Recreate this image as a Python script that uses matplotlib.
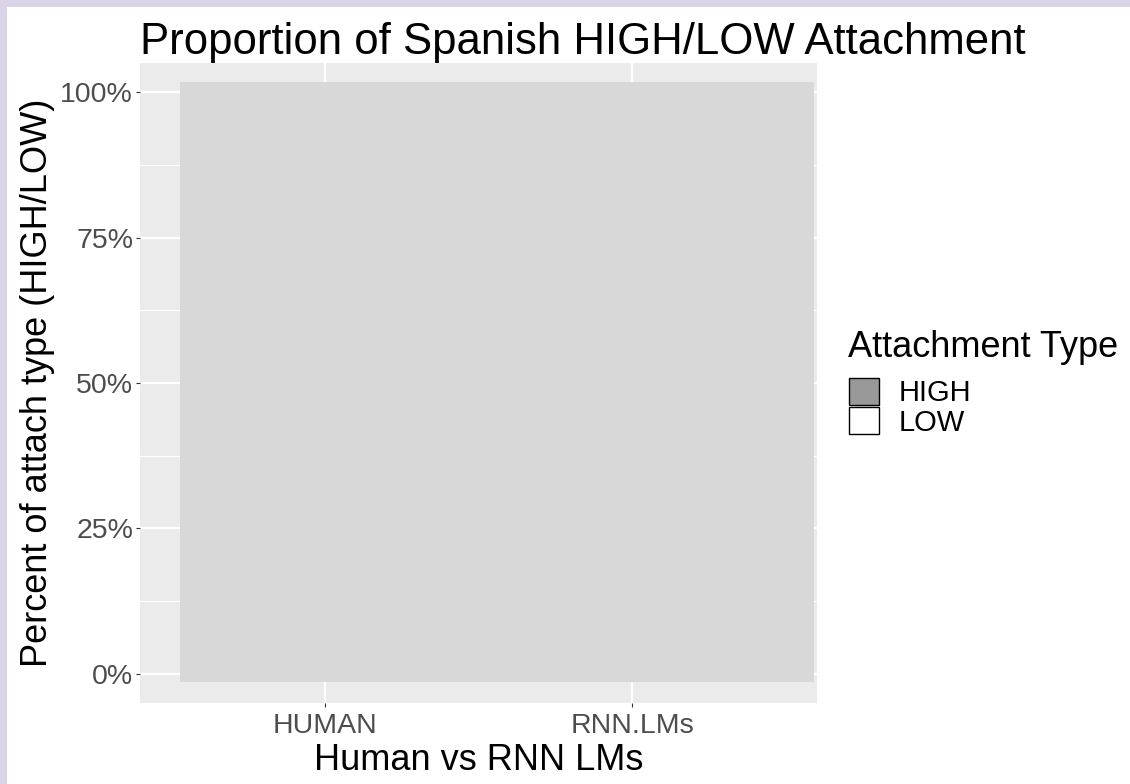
import matplotlib
matplotlib.use("Agg")
import matplotlib.pyplot as plt
from matplotlib.patches import Rectangle, Patch
from matplotlib.ticker import PercentFormatter

plt.rcParams['font.family'] = ['Liberation Sans', 'DejaVu Sans']

# data
groups = ["HUMAN", "RNN.LMs"]
attach_types = ["HIGH", "LOW"]
attach_colors = ["#999999", "#ffffff"]
y_ticks = [0, 0.25, 0.5, 0.75, 1.0]
y_minor = [0.125, 0.375, 0.625, 0.875]

# grey box that covers the bars (data units)
cover_x = [0.53, 2.59]
cover_y = [-0.014, 1.017]

fig = plt.figure(figsize=(11.3, 7.84), dpi=100)
fig.patch.set_facecolor("white")

# lavender frame on top and left
fig.patches.append(Rectangle((0, 1 - 7 / 784), 1, 7 / 784, transform=fig.transFigure,
                             facecolor="#dbd3ea", edgecolor="none", zorder=0))
fig.patches.append(Rectangle((0, 0), 7 / 1130, 1, transform=fig.transFigure,
                             facecolor="#dbd3ea", edgecolor="none", zorder=0))

ax = fig.add_axes([140 / 1130, 1 - 703 / 784, 677 / 1130, 640 / 784])
ax.set_facecolor("#ebebeb")
for s in ax.spines.values():
    s.set_visible(False)

xpos = list(range(1, len(groups) + 1))
ax.set_xlim(0.4, len(groups) + 0.6)
ax.set_ylim(-0.05, 1.05)

# grid like ggplot
for y in y_ticks:
    ax.axhline(y, color="white", lw=1.6, zorder=1)
for y in y_minor:
    ax.axhline(y, color="white", lw=0.8, zorder=1)
for x in xpos:
    ax.axvline(x, color="white", lw=1.6, zorder=1)

ax.add_patch(Rectangle((cover_x[0], cover_y[0]), cover_x[1] - cover_x[0],
                       cover_y[1] - cover_y[0], facecolor="#d8d8d8",
                       edgecolor="none", zorder=2))

ax.set_xticks(xpos)
ax.set_xticklabels(groups)
ax.set_yticks(y_ticks)
ax.yaxis.set_major_formatter(PercentFormatter(1.0, decimals=0))
ax.tick_params(axis="both", colors="#333333", length=3, width=0.8,
               labelsize=20.5, labelcolor="#4d4d4d", pad=2)
ax.tick_params(axis="x", pad=4)

ax.set_xlabel("Human vs RNN LMs", fontsize=26, color="black", labelpad=3)
ax.set_ylabel("Percent of attach type (HIGH/LOW)", fontsize=26, color="black", labelpad=4)
ax.set_title("Proportion of Spanish HIGH/LOW Attachment", fontsize=31.5, color="black",
             loc="left", x=0.0, pad=6)

# legend: title as own text so the gap matches
fig.text(848 / 1130, 1 - 357 / 784, "Attachment Type", fontsize=26,
         color="black", va="baseline", ha="left")
handles = [Patch(facecolor=c, edgecolor="black", lw=1) for c in attach_colors]
leg = fig.legend(handles, attach_types,
                 loc="upper left", bbox_to_anchor=(849 / 1130, 1 - 378 / 784),
                 frameon=False, fontsize=21,
                 handlelength=1.03, handleheight=1.03, handletextpad=0.68,
                 labelspacing=0.0, borderpad=0.0, borderaxespad=0.0)

fig.savefig("out.png", dpi=100)
